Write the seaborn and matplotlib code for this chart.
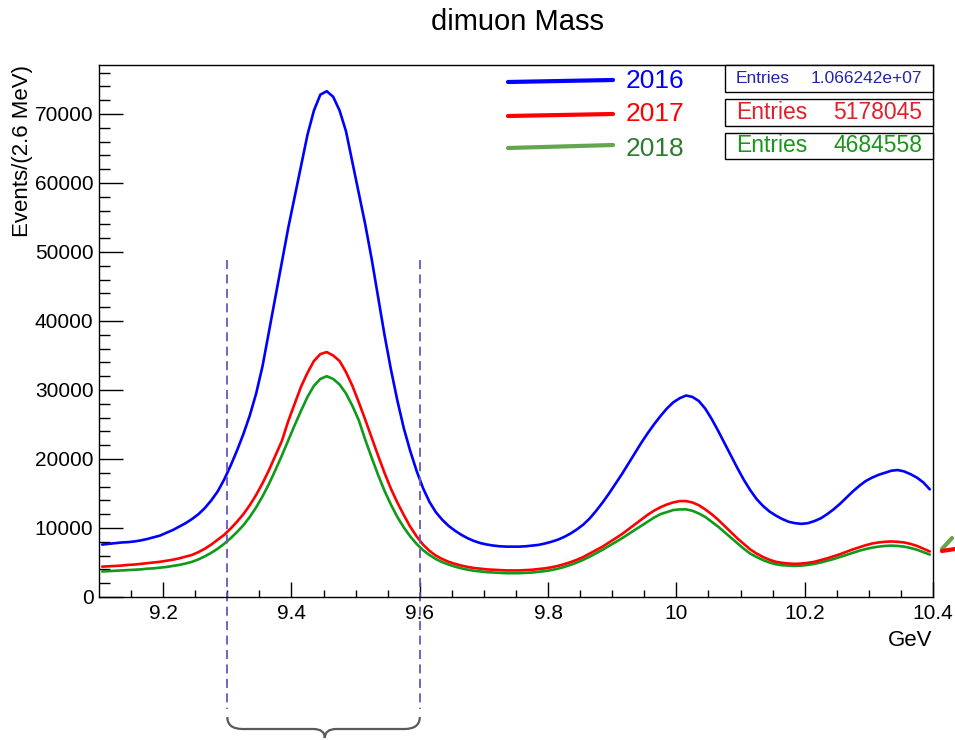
import numpy as np
import pandas as pd
import seaborn as sns
import matplotlib.pyplot as plt
import matplotlib.transforms as mtransforms
from matplotlib.patches import Rectangle, PathPatch
from matplotlib.path import Path
from matplotlib.lines import Line2D

# --- data: dimuon mass histograms, 10 MeV bins from 9.10 to 10.40 GeV ---
bin_edges = [round(v, 3) for v in np.linspace(9.10, 10.40, 131)]

counts_2016 = [
    7600, 7700, 7800, 7900, 7950, 8050, 8200, 8400, 8650, 8900,
    9300, 9700, 10200, 10700, 11300, 12000, 12900, 14000, 15300, 17000,
    19000, 21200, 23600, 26300, 29500, 33500, 38500, 43500, 48500, 53500,
    58000, 62500, 67000, 70500, 72800, 73300, 72500, 70500, 67500, 63000,
    58500, 54000, 49000, 43500, 38000, 33000, 28500, 24500, 21200, 18300,
    15800, 13800, 12300, 11200, 10300, 9600, 9000, 8500, 8100, 7800,
    7600, 7450, 7350, 7300, 7300, 7300, 7350, 7450, 7550, 7750,
    8000, 8300, 8700, 9200, 9800, 10500, 11400, 12500, 13700, 15000,
    16400, 17800, 19300, 20800, 22300, 23700, 25000, 26200, 27300, 28200,
    28800, 29200, 29000, 28400, 27300, 25800, 24100, 22300, 20500, 18700,
    17000, 15500, 14200, 13200, 12400, 11800, 11300, 10900, 10700, 10600,
    10700, 11000, 11400, 12000, 12700, 13500, 14400, 15300, 16100, 16800,
    17300, 17700, 18000, 18300, 18400, 18200, 17800, 17300, 16600, 15600,
]
counts_2017 = [
    4400, 4450, 4500, 4550, 4650, 4700, 4800, 4900, 5000, 5100,
    5250, 5400, 5600, 5850, 6100, 6500, 7000, 7600, 8300, 9000,
    9900, 10900, 12000, 13300, 14800, 16500, 18400, 20500, 22600, 25500,
    28000, 30500, 32500, 34200, 35200, 35500, 35000, 34200, 32600, 30600,
    28200, 25700, 23100, 20500, 18000, 15700, 13700, 11900, 10200, 8800,
    7600, 6700, 6000, 5500, 5100, 4800, 4550, 4350, 4200, 4100,
    4000, 3950, 3900, 3850, 3850, 3850, 3900, 3950, 4050, 4150,
    4300, 4500, 4750, 5050, 5400, 5800, 6300, 6800, 7300, 7900,
    8500, 9100, 9800, 10500, 11200, 11900, 12500, 13000, 13400, 13700,
    13900, 13900, 13700, 13300, 12700, 12000, 11200, 10300, 9400, 8500,
    7700, 6900, 6300, 5800, 5400, 5100, 4950, 4850, 4800, 4850,
    4950, 5100, 5350, 5600, 5900, 6200, 6550, 6900, 7200, 7500,
    7750, 7900, 8000, 8050, 8000, 7900, 7700, 7400, 7000, 6600,
]
counts_2018 = [
    3700, 3750, 3800, 3850, 3900, 3950, 4000, 4100, 4150, 4250,
    4350, 4500, 4650, 4850, 5100, 5450, 5900, 6400, 7000, 7700,
    8500, 9400, 10400, 11600, 13000, 14600, 16400, 18400, 20500, 22700,
    24900, 27000, 29000, 30600, 31600, 32000, 31600, 30800, 29500, 27700,
    25600, 22800, 20200, 17700, 15400, 13400, 11600, 10100, 8800, 7700,
    6800, 6100, 5500, 5050, 4700, 4400, 4150, 3950, 3800, 3700,
    3600, 3550, 3500, 3450, 3450, 3450, 3500, 3550, 3650, 3750,
    3900, 4100, 4350, 4650, 5000, 5400, 5850, 6350, 6850, 7400,
    7950, 8500, 9100, 9700, 10300, 10900, 11500, 12000, 12300, 12600,
    12700, 12700, 12500, 12100, 11600, 10900, 10200, 9400, 8600, 7800,
    7000, 6300, 5800, 5350, 5000, 4750, 4600, 4550, 4500, 4550,
    4650, 4800, 5000, 5250, 5500, 5800, 6100, 6400, 6700, 6950,
    7150, 7300, 7400, 7450, 7400, 7300, 7100, 6850, 6500, 6150,
]
years = ['2016', '2017', '2018']
entries = ['1.066242e+07', '5178045', '4684558']
window = [9.30, 9.60]

W, H = 955, 740


def fpx(x, y):
    # pixel position in the picture -> figure fraction
    return x / W, 1 - y / H


centers = [(a + b) / 2 for a, b in zip(bin_edges[:-1], bin_edges[1:])]
df = pd.concat([
    pd.DataFrame({'mass': centers, 'count': c, 'year': y})
    for c, y in zip([counts_2016, counts_2017, counts_2018], years)
], ignore_index=True)

sns.set_style('white')
plt.rcParams['font.family'] = ['Liberation Sans', 'DejaVu Sans']
plt.rcParams['text.color'] = 'black'
plt.rcParams['xtick.color'] = 'black'
plt.rcParams['ytick.color'] = 'black'

line_colors = {'2016': '#0000ff', '2017': '#ff0000', '2018': '#0f9a1a'}

fig = plt.figure(figsize=(9.55, 7.4), dpi=100)
ax = fig.add_axes([99 / W, 1 - 597 / H, 834 / W, 532 / H])

sns.histplot(data=df, x='mass', weights='count', hue='year', bins=bin_edges,
             element='poly', fill=False, palette=line_colors, linewidth=1.9,
             legend=False, ax=ax)

ax.set_xlim(9.1, 10.4)
ax.set_ylim(0, 77100)
ax.set_xticks([9.2, 9.4, 9.6, 9.8, 10.0, 10.2, 10.4])
ax.set_xticklabels(['9.2', '9.4', '9.6', '9.8', '10', '10.2', '10.4'])
ax.set_xticks(np.arange(9.15, 10.40, 0.05), minor=True)
ax.set_yticks(np.arange(0, 70001, 10000))
ax.set_yticks(np.arange(0, 76001, 2000), minor=True)
ax.tick_params(axis='x', which='both', bottom=True, top=False, direction='in', width=1)
ax.tick_params(axis='y', which='both', left=True, right=False, direction='in', width=1)
ax.tick_params(axis='x', which='major', length=11, labelsize=15, pad=5)
ax.tick_params(axis='x', which='minor', length=5)
ax.tick_params(axis='y', which='major', length=17, labelsize=15, pad=4)
ax.tick_params(axis='y', which='minor', length=8)
ax.set_xlabel('')
ax.set_ylabel('')
for s in ax.spines.values():
    s.set_color('black')
    s.set_linewidth(1)

# titles
fig.text(*fpx(517, 22), 'dimuon Mass', ha='center', va='center', fontsize=21)
fig.text(*fpx(23, 65), 'Events/(2.6 MeV)', rotation=90, ha='center', va='top', fontsize=16)
fig.text(*fpx(932, 641), 'GeV', ha='right', va='center', fontsize=16)

# legend lines and labels
leg_y = [(82, 80), (116, 114), (148, 145)]
leg_line_colors = ['#0000ff', '#ff0000', '#64a64c']
leg_text_colors = ['#0000ff', '#ff0000', '#2e7d2e']
label_y = [81, 114, 149]
for (y0, y1), lc, tc, yr, ly in zip(leg_y, leg_line_colors, leg_text_colors, years, label_y):
    x0, fy0 = fpx(508, y0)
    x1, fy1 = fpx(613, y1)
    fig.add_artist(Line2D([x0, x1], [fy0, fy1], color=lc, lw=3, transform=fig.transFigure))
    fig.text(*fpx(626, ly), yr, color=tc, ha='left', va='center', fontsize=19)

# stats boxes
boxes = [(65, 92), (99, 126), (133, 159)]
box_colors = ['#2424a8', '#e0202a', '#1a961a']
box_fs = [12.5, 16.5, 16.5]
for (top, bot), col, fs, ent in zip(boxes, box_colors, box_fs, entries):
    bx, by = fpx(725, bot)
    fig.add_artist(Rectangle((bx, by), (933 - 725) / W, (bot - top) / H,
                             transform=fig.transFigure, facecolor='white',
                             edgecolor='black', lw=1))
    ym = (top + bot) / 2
    fig.text(*fpx(736, ym), 'Entries', color=col, ha='left', va='center', fontsize=fs)
    fig.text(*fpx(922, ym), ent, color=col, ha='right', va='center', fontsize=fs)

# mass window markers (x in data, y in figure)
blend = mtransforms.blended_transform_factory(ax.transData, fig.transFigure)
for xm in window:
    ax.add_artist(Line2D([xm, xm], [1 - 260 / H, 1 - 709 / H], color='#6a55c0',
                         lw=1.3, ls=(0, (5, 3)), transform=blend, clip_on=False))

# curly brace under the window
xl, xr = window
xc = (xl + xr) / 2 + 0.002
yb = lambda p: 1 - p / H
verts = [(xl, yb(717)), (xl, yb(729)), (xl + 0.024, yb(729)),
         (xc - 0.018, yb(729)),
         (xc, yb(729)), (xc, yb(738)),
         (xc, yb(729)), (xc + 0.018, yb(729)),
         (xr - 0.024, yb(729)),
         (xr, yb(729)), (xr, yb(717))]
codes = [Path.MOVETO, Path.CURVE3, Path.CURVE3, Path.LINETO,
         Path.CURVE3, Path.CURVE3, Path.CURVE3, Path.CURVE3,
         Path.LINETO, Path.CURVE3, Path.CURVE3]
ax.add_artist(PathPatch(Path(verts, codes), transform=blend, fill=False,
                        edgecolor='#5a5a5a', lw=1.6, clip_on=False))

# small cut-off strokes at the right edge
g0, g1 = fpx(942, 549), fpx(952, 538)
fig.add_artist(Line2D([g0[0], g1[0]], [g0[1], g1[1]], color='#64a64c', lw=3, transform=fig.transFigure))
r0, r1 = fpx(942, 551), fpx(955, 549)
fig.add_artist(Line2D([r0[0], r1[0]], [r0[1], r1[1]], color='#ff0000', lw=3, transform=fig.transFigure))

plt.savefig('out.png', dpi=100)
plt.close()
